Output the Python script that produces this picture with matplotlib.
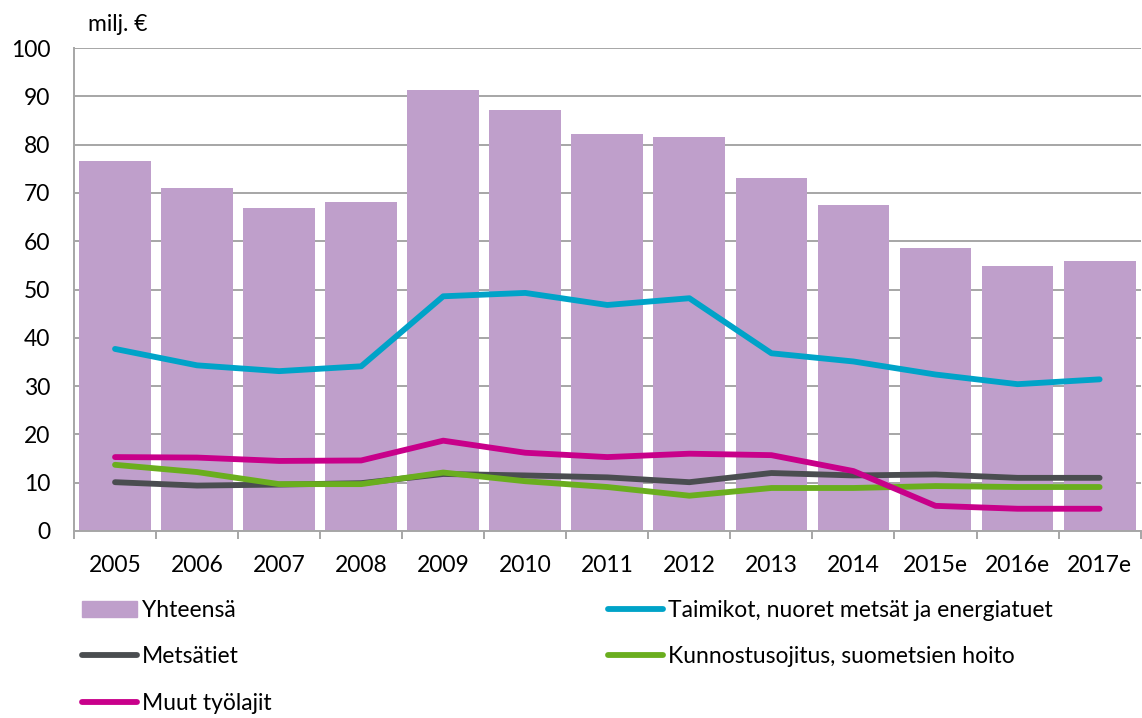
import matplotlib
matplotlib.use("Agg")
import matplotlib.pyplot as plt
from matplotlib.patches import Patch
from matplotlib.lines import Line2D
import numpy as np

plt.rcParams['font.family'] = ['Lato', 'DejaVu Sans']

years = ["2005", "2006", "2007", "2008", "2009", "2010", "2011", "2012",
         "2013", "2014", "2015e", "2016e", "2017e"]
yhteensa = [76.7, 71.1, 66.8, 68.2, 91.3, 87.2, 82.3, 81.6, 73.2, 67.6, 58.6, 54.9, 55.9]
taimikot = [37.7, 34.3, 33.1, 34.1, 48.6, 49.3, 46.8, 48.2, 36.8, 35.1, 32.4, 30.4, 31.4]
metsatiet = [10.1, 9.4, 9.6, 9.9, 11.8, 11.5, 11.1, 10.1, 12.0, 11.5, 11.7, 11.0, 11.0]
kunnostus = [13.7, 12.2, 9.7, 9.7, 12.1, 10.3, 9.1, 7.3, 8.9, 8.9, 9.3, 9.1, 9.1]
muut = [15.3, 15.2, 14.5, 14.6, 18.7, 16.2, 15.3, 16.0, 15.7, 12.4, 5.2, 4.6, 4.6]

c_bar = "#bf9fcb"
c_taimi = "#00a3c8"
c_mets = "#4a4d50"
c_kunn = "#6aae1e"
c_muut = "#c8008a"
grid_c = "#a6a6a6"
fs = 16.5

fig = plt.figure(figsize=(11.42, 7.18), dpi=100)
ax = fig.add_axes([0.0648, 0.2605, 0.934, 0.6725])

x = np.arange(len(years))
ax.bar(x, yhteensa, width=0.875, color=c_bar, zorder=2)
lw = 4.2
ax.plot(x, taimikot, color=c_taimi, lw=lw, zorder=3, solid_capstyle='round')
ax.plot(x, metsatiet, color=c_mets, lw=lw, zorder=3, solid_capstyle='round')
ax.plot(x, kunnostus, color=c_kunn, lw=lw, zorder=3, solid_capstyle='round')
ax.plot(x, muut, color=c_muut, lw=lw, zorder=3, solid_capstyle='round')

ax.set_xlim(-0.5, len(years) - 0.5)
ax.set_ylim(0, 100)
ax.set_yticks(range(0, 101, 10))
ax.yaxis.grid(True, color=grid_c, lw=1.4, zorder=1)
ax.set_axisbelow(True)

ax.set_xticks(x)
ax.set_xticklabels(years)
ax.set_xticks(np.arange(-0.5, len(years), 1), minor=True)
ax.tick_params(axis='x', which='major', length=0, pad=17, labelsize=fs)
ax.tick_params(axis='x', which='minor', length=6, width=1.4, color=grid_c)
ax.tick_params(axis='y', length=0, labelsize=fs, pad=17)

for s in ['top', 'right']:
    ax.spines[s].set_visible(False)
for s in ['left', 'bottom']:
    ax.spines[s].set_color(grid_c)
    ax.spines[s].set_linewidth(1.4)

fig.text(0.077, 0.966, "milj. €", fontsize=fs, ha='left', va='center')

handles = [
    Patch(color=c_bar),
    Line2D([], [], color=c_mets, lw=lw, solid_capstyle='round'),
    Line2D([], [], color=c_muut, lw=lw, solid_capstyle='round'),
    Line2D([], [], color=c_taimi, lw=lw, solid_capstyle='round'),
    Line2D([], [], color=c_kunn, lw=lw, solid_capstyle='round'),
]
labels = ["Yhteensä", "Metsätiet", "Muut työlajit",
          "Taimikot, nuoret metsät ja energiatuet", "Kunnostusojitus, suometsien hoito"]
fig.legend(handles, labels, ncol=2, loc='upper left', bbox_to_anchor=(0.0718, 0.164),
           frameon=False, fontsize=fs, handlelength=2.4, handleheight=0.7,
           handletextpad=0.2, columnspacing=14.7, labelspacing=1.1, borderaxespad=0,
           borderpad=0)

fig.savefig("out.png", dpi=100)
